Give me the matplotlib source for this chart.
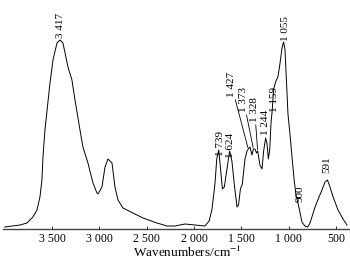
import matplotlib
matplotlib.use("Agg")
import matplotlib.pyplot as plt
import numpy as np

plt.rcParams['font.family'] = ['Liberation Serif', 'DejaVu Serif']
plt.rcParams['mathtext.fontset'] = 'stix'

# spectrum (wavenumber, absorbance in arbitrary units)
wavenumber = [4000, 3838, 3764, 3701, 3658, 3627, 3606, 3595, 3574, 3521,
              3489, 3447, 3416, 3384, 3331, 3289, 3257, 3204, 3173, 3120,
              3067, 3025, 3014, 2972, 2940, 2909, 2866, 2835, 2803, 2750,
              2645, 2539, 2391, 2286, 2201, 2096, 1990, 1884, 1840, 1810,
              1779, 1760, 1739, 1720, 1700, 1680, 1652, 1624, 1600, 1575,
              1546, 1530, 1510, 1490, 1462, 1440, 1427, 1409, 1388, 1373,
              1356, 1340, 1328, 1304, 1282, 1265, 1244, 1230, 1215, 1200,
              1188, 1175, 1159, 1135, 1114, 1093, 1071, 1055, 1040, 1025,
              1008, 987, 965, 944, 925, 900, 880, 860, 830, 800,
              775, 722, 680, 649, 617, 591, 564, 535, 511, 480,
              450, 427, 385]
absorbance = [0.02, 0.04, 0.06, 0.12, 0.19, 0.32, 0.49, 0.72, 0.99, 1.46,
              1.69, 1.86, 1.89, 1.86, 1.62, 1.49, 1.29, 0.99, 0.82, 0.66,
              0.46, 0.36, 0.35, 0.42, 0.62, 0.70, 0.66, 0.42, 0.29, 0.21,
              0.16, 0.11, 0.06, 0.03, 0.03, 0.05, 0.04, 0.03, 0.08, 0.20,
              0.45, 0.70, 0.79, 0.60, 0.40, 0.42, 0.60, 0.78, 0.68, 0.45,
              0.22, 0.24, 0.40, 0.45, 0.70, 0.78, 0.80, 0.82, 0.74, 0.80,
              0.80, 0.76, 0.78, 0.64, 0.60, 0.78, 0.91, 0.86, 0.70, 0.80,
              1.05, 1.18, 1.40, 1.48, 1.52, 1.65, 1.81, 1.87, 1.80, 1.50,
              1.15, 0.95, 0.72, 0.50, 0.35, 0.25, 0.16, 0.07, 0.03, 0.02,
              0.06, 0.22, 0.32, 0.39, 0.47, 0.49, 0.42, 0.33, 0.27, 0.19,
              0.14, 0.10, 0.04]

tick_values = [3500, 3000, 2500, 2000, 1500, 1000, 500]
tick_labels = ['3 500', '3 000', '2 500', '2 000', '1 500', '1 000', '500']

peak_labels = ['3 417', '1 739', '1 624', '1 427', '1 373', '1 328',
               '1 244', '1 159', '1 055', '900', '591']
peak_positions = [3417, 1739, 1624, 1427, 1373, 1328, 1244, 1159, 1055, 900, 591]

fig = plt.figure(figsize=(3.5, 2.65), dpi=100)
ax = fig.add_axes([3 / 350, 36 / 265, 347 / 350, 229 / 265])

ax.plot(wavenumber, absorbance, color='black', lw=0.7)
ax.set_xlim(4017, 353)
ax.set_ylim(0, 2.29)

for s in ['top', 'left', 'right']:
    ax.spines[s].set_visible(False)
ax.spines['bottom'].set_linewidth(1.0)
ax.spines['bottom'].set_color('#444444')
ax.set_yticks([])
ax.set_xticks(tick_values)
ax.set_xticklabels(tick_labels, fontsize=8.5)
ax.tick_params(axis='x', direction='in', length=2, width=0.6, pad=3)

ax.set_xlabel(r'Wavenumbers/cm$^{-1}$', fontsize=9.5)
ax.xaxis.set_label_coords(0.53, -0.07)

# label offsets in pixels (x, y) from the curve point
offsets = [(1, 2), (2, -6), (1, -7), (-17, 52), (-10, 37), (-3, 29),
           (0, 3), (1, -23), (2, 1), (2, 2), (-1, 7)]
leader = [False, False, False, True, True, True, False, False, False, False, False]

wn_rev = wavenumber[::-1]
ab_rev = absorbance[::-1]
for lab, pos, off, ld in zip(peak_labels, peak_positions, offsets, leader):
    yv = np.interp(pos, wn_rev, ab_rev)
    arrow = dict(arrowstyle='-', lw=0.6, color='black', shrinkA=0, shrinkB=1) if ld else None
    ax.annotate(lab, xy=(pos, yv), xytext=off, textcoords='offset pixels',
                rotation=90, ha='center', va='bottom', fontsize=8,
                arrowprops=arrow)

fig.savefig('out.png', dpi=100)
